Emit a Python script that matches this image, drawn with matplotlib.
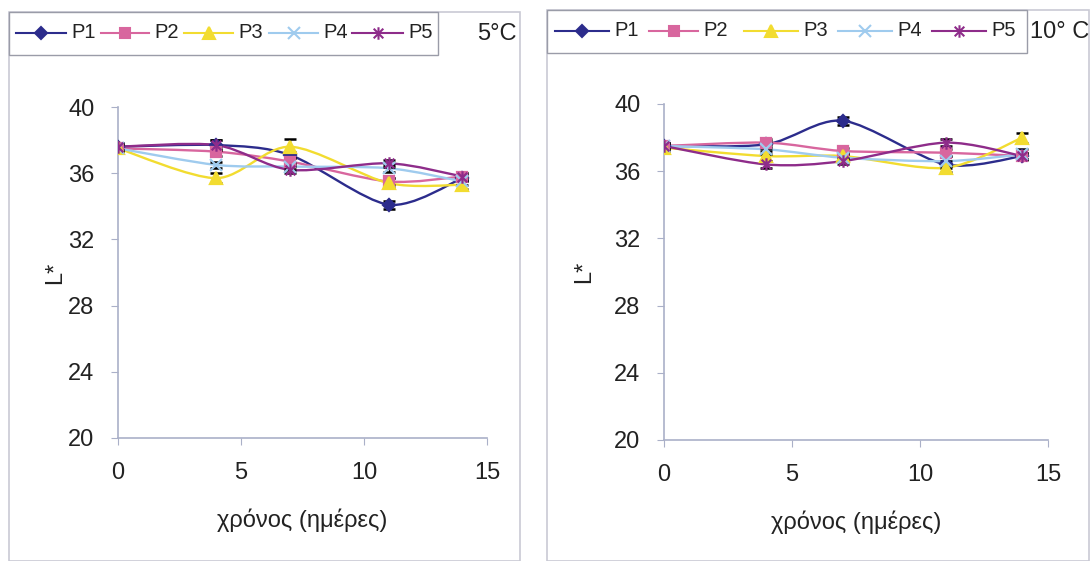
import numpy as np
import matplotlib.pyplot as plt
from matplotlib.path import Path
from matplotlib.patches import PathPatch, Rectangle
from matplotlib.lines import Line2D

plt.rcParams['font.family'] = ['Liberation Sans', 'DejaVu Sans']

# ── Data ──────────────────────────────────────────────────────────────────────
days = [0, 4, 7, 11, 14]
series_names = ["P1", "P2", "P3", "P4", "P5"]

# 5 °C
l_5c = {
    "P1": [37.6, 37.7, 37.1, 34.1, 35.7],
    "P2": [37.5, 37.3, 36.7, 35.5, 35.8],
    "P3": [37.5, 35.7, 37.6, 35.4, 35.3],
    "P4": [37.5, 36.5, 36.4, 36.3, 35.5],
    "P5": [37.6, 37.7, 36.2, 36.6, 35.8],
}
err_5c = {
    "P1": [0.2, 0.3, 0.2, 0.25, 0.2],
    "P2": [0.2, 0.25, 0.2, 0.2, 0.2],
    "P3": [0.3, 0.3, 0.45, 0.3, 0.25],
    "P4": [0.2, 0.2, 0.2, 0.2, 0.2],
    "P5": [0.2, 0.3, 0.2, 0.2, 0.2],
}

# 10 °C
l_10c = {
    "P1": [37.5, 37.6, 39.0, 36.4, 36.9],
    "P2": [37.5, 37.7, 37.2, 37.1, 36.9],
    "P3": [37.4, 36.9, 36.9, 36.2, 38.0],
    "P4": [37.5, 37.3, 36.8, 36.6, 37.0],
    "P5": [37.5, 36.4, 36.6, 37.7, 36.9],
}
err_10c = {
    "P1": [0.2, 0.2, 0.25, 0.2, 0.2],
    "P2": [0.2, 0.2, 0.2, 0.2, 0.2],
    "P3": [0.2, 0.3, 0.2, 0.25, 0.3],
    "P4": [0.2, 0.3, 0.2, 0.3, 0.35],
    "P5": [0.2, 0.2, 0.2, 0.2, 0.2],
}

y_ticks = [20, 24, 28, 32, 36, 40]
x_ticks = [0, 5, 10, 15]

# ── Styles ────────────────────────────────────────────────────────────────────
asterisk = Path(
    [(-1, -1), (1, 1), (-1, 1), (1, -1), (0, -1.3), (0, 1.3)],
    [Path.MOVETO, Path.LINETO, Path.MOVETO, Path.LINETO, Path.MOVETO, Path.LINETO],
)
styles = {
    "P1": dict(color="#2c2c8c", marker="D", ms=6),
    "P2": dict(color="#d8669e", marker="s", ms=7),
    "P3": dict(color="#f2dc30", marker="^", ms=8),
    "P4": dict(color="#9fcbee", marker="x", ms=8),
    "P5": dict(color="#8e2c8a", marker=asterisk, ms=9),
}
AXIS_COLOR = "#aab0c8"
TEXT_COLOR = "#222222"
W, H = 1091, 561


def smooth_path(x, y, k=7.0):
    """Cardinal-spline style bezier path through the points (Excel smooth line)."""
    pts = np.column_stack([x, y]).astype(float)
    ext = np.vstack([pts[0], pts, pts[-1]])
    verts = [tuple(pts[0])]
    codes = [Path.MOVETO]
    for i in range(1, len(ext) - 2):
        p0, p1, p2, p3 = ext[i - 1], ext[i], ext[i + 1], ext[i + 2]
        c1 = p1 + (p2 - p0) / k
        c2 = p2 - (p3 - p1) / k
        verts += [tuple(c1), tuple(c2), tuple(p2)]
        codes += [Path.CURVE4] * 3
    return Path(verts, codes)


def draw_panel(fig, rect, values, errors, ylabel_x):
    ax = fig.add_axes(rect)
    for name in series_names:
        st = styles[name]
        ax.add_patch(PathPatch(smooth_path(days, values[name]), facecolor="none",
                               edgecolor=st["color"], lw=1.7, zorder=2))
        ax.errorbar(days, values[name], yerr=errors[name], fmt="none",
                    ecolor="black", elinewidth=1, capsize=4.5, capthick=1.8, zorder=3)
        ax.plot(days, values[name], linestyle="none", marker=st["marker"],
                ms=st["ms"], color=st["color"], mec=st["color"], mew=1.6, zorder=4)

    ax.set_xlim(0, 15)
    ax.set_ylim(20, 40)
    ax.set_xticks(x_ticks)
    ax.set_yticks(y_ticks)
    for side in ["top", "right"]:
        ax.spines[side].set_visible(False)
    for side in ["left", "bottom"]:
        ax.spines[side].set_color(AXIS_COLOR)
        ax.spines[side].set_linewidth(1.2)
    ax.tick_params(axis="both", direction="out", length=5, color=AXIS_COLOR,
                   labelsize=17, labelcolor=TEXT_COLOR)
    ax.tick_params(axis="x", pad=12)
    ax.tick_params(axis="y", pad=12)
    ax.set_xlabel("χρόνος (ημέρες)", fontsize=17, color=TEXT_COLOR, labelpad=18)
    ax.set_ylabel("L*", fontsize=17, color=TEXT_COLOR)
    ax.yaxis.set_label_coords(ylabel_x, 0.5)
    ax.patch.set_alpha(0)
    return ax


def draw_legend(fig, box, handle_x, y):
    """Excel-style legend row: line + marker handle followed by the label."""
    x0, y0, w, h = box
    fig.patches.append(Rectangle((x0 / W, 1 - (y0 + h) / H), w / W, h / H,
                                 transform=fig.transFigure, fill=False,
                                 edgecolor="#9a9ca8", lw=1.0))
    yf = 1 - y / H
    for name, (xa, xb) in zip(series_names, handle_x):
        st = styles[name]
        fig.add_artist(Line2D([xa / W, xb / W], [yf, yf], color=st["color"],
                              lw=1.5, transform=fig.transFigure))
        fig.add_artist(Line2D([(xa + xb) / 2 / W], [yf], color=st["color"],
                              marker=st["marker"], ms=st["ms"], mew=1.5,
                              linestyle="none", transform=fig.transFigure))
        fig.text((xb + 5) / W, yf, name, fontsize=14.5, ha="left", va="center",
                 color=TEXT_COLOR)


fig = plt.figure(figsize=(W / 100, H / 100), dpi=100)

# panel frames
fig.patches.append(Rectangle((9 / W, 0), (520 - 9) / W, (H - 12) / H,
                             transform=fig.transFigure, fill=False,
                             edgecolor="#c9cad4", lw=1.2))
fig.patches.append(Rectangle((547 / W, 0), (1089 - 547) / W, (H - 10) / H,
                             transform=fig.transFigure, fill=False,
                             edgecolor="#c9cad4", lw=1.2))

draw_panel(fig, [118 / W, 1 - 438 / H, (487 - 118) / W, (438 - 107) / H],
           l_5c, err_5c, -0.14)
draw_panel(fig, [664 / W, 1 - 440 / H, (1048 - 664) / W, (440 - 104) / H],
           l_10c, err_10c, -0.18)

draw_legend(fig, (9, 12, 429, 43),
            [(16, 66), (101, 149), (184, 233), (269, 318), (352, 403)], 33)
draw_legend(fig, (547, 10, 480, 43),
            [(555, 609), (649, 698), (744, 798), (838, 892), (932, 986)], 31)

fig.text(497 / W, 1 - 34 / H, "5°C", fontsize=17, ha="center", va="center",
         color=TEXT_COLOR)
fig.text(1060 / W, 1 - 32 / H, "10° C", fontsize=17, ha="center", va="center",
         color=TEXT_COLOR)

fig.savefig("out.png", dpi=100)
